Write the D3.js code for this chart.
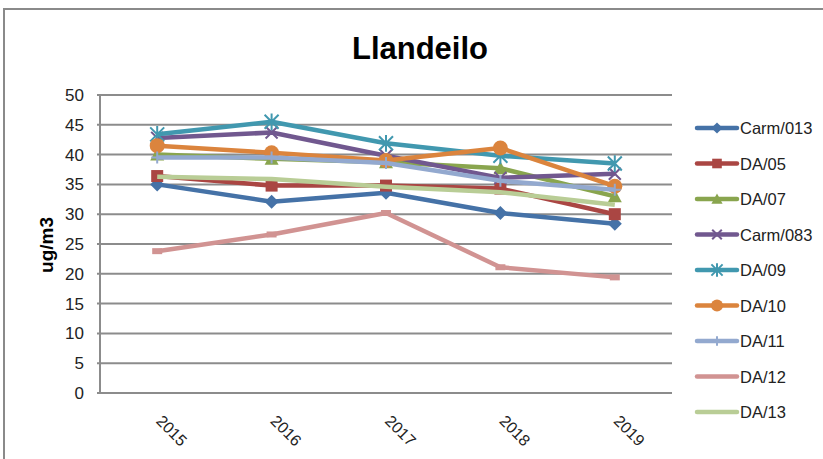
<!DOCTYPE html>
<html><head><meta charset="utf-8">
<script src="https://cdn.jsdelivr.net/npm/d3@7"></script>
<style>
html,body{margin:0;padding:0;background:#fff;}
svg{display:block;font-family:"Liberation Sans",Arial,sans-serif;}
</style></head>
<body><svg id="c" width="823" height="459"></svg>
<script>
const years = ["2015","2016","2017","2018","2019"];
const seriesNames = ["Carm/013","DA/05","DA/07","Carm/083","DA/09","DA/10","DA/11","DA/12","DA/13"];
const carm013 = [35.0, 32.1, 33.6, 30.2, 28.4];
const da05    = [36.4, 34.8, 34.8, 34.3, 30.0];
const da07    = [40.0, 39.3, 38.7, 37.7, 33.0];
const carm083 = [42.8, 43.7, 39.8, 36.1, 36.8];
const da09    = [43.4, 45.5, 41.9, 39.8, 38.5];
const da10    = [41.5, 40.3, 39.0, 41.1, 34.7];
const da11    = [39.5, 39.5, 38.6, 35.6, 34.1];
const da12    = [23.8, 26.6, 30.2, 21.1, 19.4];
const da13    = [36.3, 35.9, 34.6, 33.7, 31.6];
const yTicks = [0,5,10,15,20,25,30,35,40,45,50];
const colors = ["#4572A7","#AA4643","#89A54E","#71588F","#4198AF","#DB843D","#93A9CF","#D19392","#B9CD96"];
const markers = ["diamond","square","triangle","x","star","circle","plus","dash","none"];
const values = [carm013, da05, da07, carm083, da09, da10, da11, da12, da13];

const svg = d3.select("#c");
// outer chart border
svg.append("rect").attr("x",4).attr("y",9).attr("width",840).attr("height",470)
  .attr("fill","none").attr("stroke","#8a8a8a").attr("stroke-width",2);

const x = d3.scalePoint().domain(years).range([100,672]).padding(0.5);
const y = d3.scaleLinear().domain([0,50]).range([393,95]);

// gridlines
svg.append("g").selectAll("line").data(yTicks).join("line")
  .attr("x1",97).attr("x2",672).attr("y1",d=>y(d)).attr("y2",d=>y(d))
  .attr("stroke","#8c8c8c").attr("stroke-width",2);
// left axis line
svg.append("line").attr("x1",100).attr("x2",100).attr("y1",y(50)).attr("y2",y(0)+1)
  .attr("stroke","#8c8c8c").attr("stroke-width",2);

// y axis labels
const yAxis = d3.axisLeft(y).tickValues(yTicks).tickSize(0).tickPadding(0);
const gy = svg.append("g").attr("transform","translate(84,0)").call(yAxis);
gy.select(".domain").remove();
gy.selectAll("text").attr("font-size",17).attr("fill","#222").attr("font-family","Liberation Sans, Arial, sans-serif");

// x axis labels
const xAxis = d3.axisBottom(x).tickSize(0);
const gx = svg.append("g").call(xAxis);
gx.select(".domain").remove();
gx.selectAll("text").attr("font-size",16).attr("fill","#222")
  .attr("font-family","Liberation Sans, Arial, sans-serif")
  .attr("text-anchor","start").attr("dy",null).attr("y",null)
  .attr("transform",d=>`translate(${x(d)-2},422) rotate(45)`);
gx.selectAll(".tick").attr("transform",null);

// title
svg.append("text").attr("x",420).attr("y",59).attr("text-anchor","middle")
  .attr("font-size",31).attr("font-weight","bold").text("Llandeilo");
// y title
svg.append("text").attr("transform","translate(53,245) rotate(-90)").attr("text-anchor","middle")
  .attr("font-size",19).attr("font-weight","bold").text("ug/m3");

function drawMarker(g, type, cx, cy, col, scale){
  const s = scale||1;
  if(type==="diamond"){
    g.append("path").attr("d",`M${cx},${cy-7*s}L${cx+7*s},${cy}L${cx},${cy+7*s}L${cx-7*s},${cy}Z`).attr("fill",col);
  } else if(type==="square"){
    g.append("rect").attr("x",cx-6*s).attr("y",cy-6*s).attr("width",12*s).attr("height",12*s).attr("fill",col);
  } else if(type==="triangle"){
    g.append("path").attr("d",`M${cx},${cy-7*s}L${cx+7*s},${cy+6*s}L${cx-7*s},${cy+6*s}Z`).attr("fill",col);
  } else if(type==="x"){
    const r=6*s;
    g.append("path").attr("d",`M${cx-r},${cy-r}L${cx+r},${cy+r}M${cx-r},${cy+r}L${cx+r},${cy-r}`).attr("stroke",col).attr("stroke-width",2);
  } else if(type==="star"){
    const r=7*s;
    g.append("path").attr("d",`M${cx-r},${cy-r}L${cx+r},${cy+r}M${cx-r},${cy+r}L${cx+r},${cy-r}M${cx},${cy-r*1.2}L${cx},${cy+r*1.2}`).attr("stroke",col).attr("stroke-width",2);
  } else if(type==="circle"){
    g.append("circle").attr("cx",cx).attr("cy",cy).attr("r",7.5*s).attr("fill",col);
  } else if(type==="plus"){
    const r=6*s;
    g.append("path").attr("d",`M${cx-r},${cy}L${cx+r},${cy}M${cx},${cy-r}L${cx},${cy+r}`).attr("stroke",col).attr("stroke-width",2);
  } else if(type==="dash"){
    g.append("rect").attr("x",cx-5*s).attr("y",cy-3).attr("width",10*s).attr("height",6).attr("fill",col);
  }
}

const line = d3.line().x((d,i)=>x(years[i])).y(d=>y(d));
values.forEach((vals,k)=>{
  const g = svg.append("g");
  g.append("path").attr("d",line(vals)).attr("fill","none").attr("stroke",colors[k])
    .attr("stroke-width",4.5).attr("stroke-linejoin","round");
  vals.forEach((v,i)=>drawMarker(g, markers[k], x(years[i]), y(v), colors[k], 1));
});

// legend
const leg = svg.append("g");
seriesNames.forEach((n,k)=>{
  const ly = 128 + k*35.5;
  leg.append("line").attr("x1",697).attr("x2",737).attr("y1",ly).attr("y2",ly)
    .attr("stroke",colors[k]).attr("stroke-width",4.5).attr("stroke-linecap","round");
  if(markers[k]!=="dash" && markers[k]!=="none") drawMarker(leg, markers[k], 717, ly, colors[k], 0.8);
  leg.append("text").attr("x",740).attr("y",ly+6).attr("font-size",16.5).attr("fill","#222").text(n);
});
</script></body></html>
